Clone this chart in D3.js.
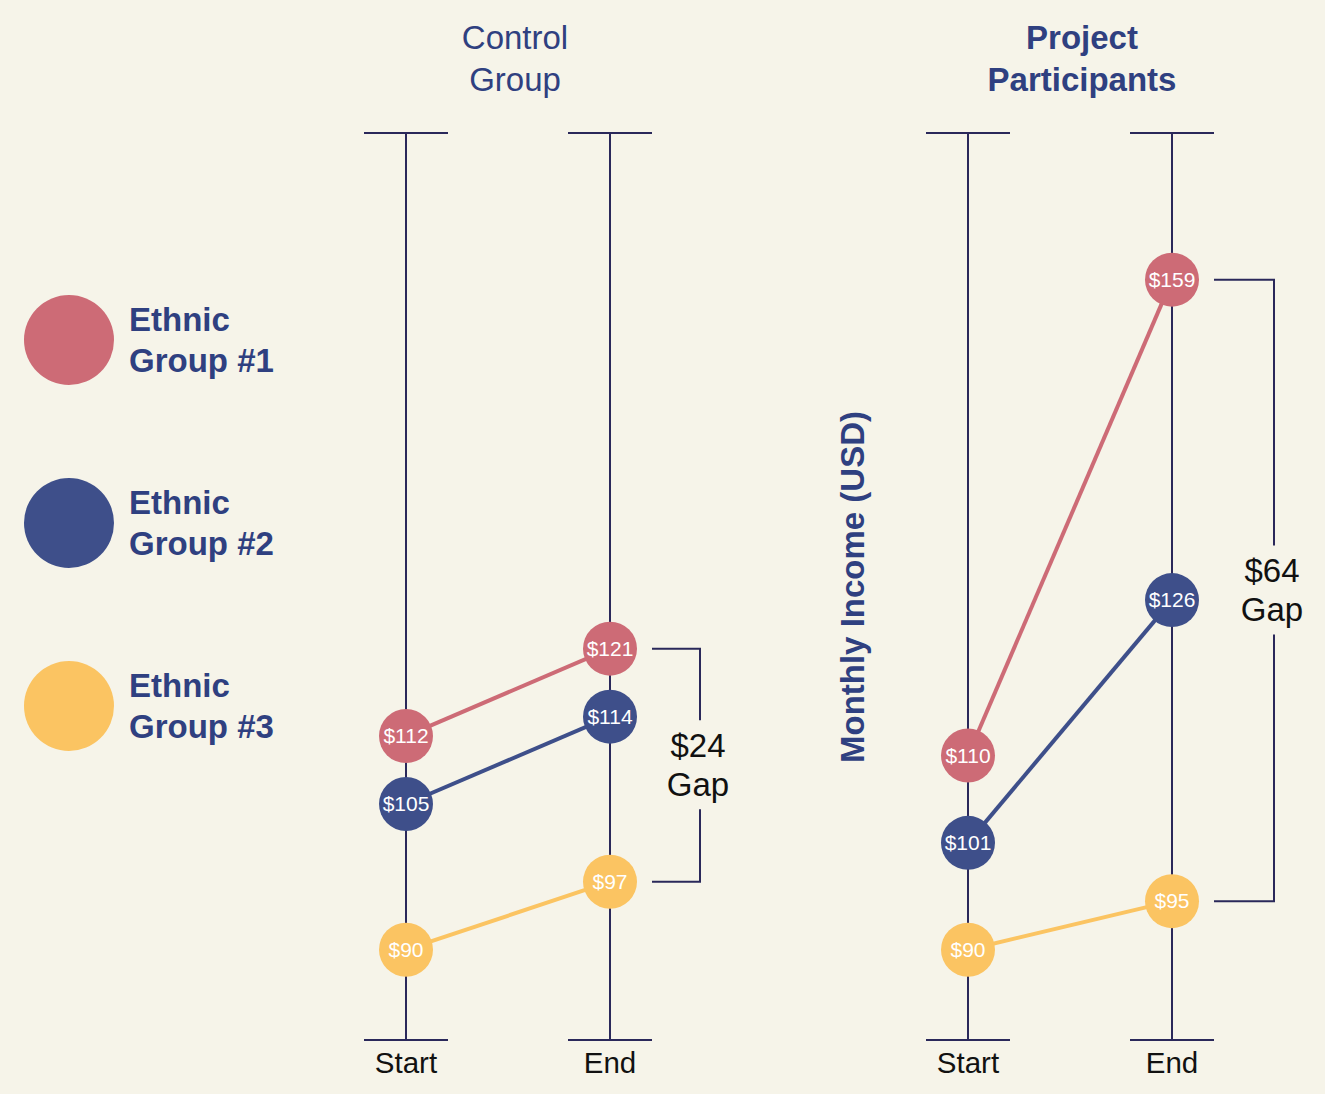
<!DOCTYPE html>
<html>
<head>
<meta charset="utf-8">
<script src="https://cdn.jsdelivr.net/npm/d3@7"></script>
<style>
  body { margin: 0; background: #f6f4e9; }
  svg { display: block; font-family: "Liberation Sans", Arial, Helvetica, sans-serif; }
</style>
</head>
<body>
<svg id="chart"></svg>
<script>
// data
const groups = ["Ethnic Group #1", "Ethnic Group #2", "Ethnic Group #3"];
const colours = ["#cd6b76", "#3e4f8a", "#fbc462"];
const periods = ["Start", "End"];
const controlStart = [112, 105, 90];
const controlEnd = [121, 114, 97];
const projectStart = [110, 101, 90];
const projectEnd = [159, 126, 95];
const panelTitles = [["Control", "Group"], ["Project", "Participants"]];

const width = 1325;
const height = 1094;
const axisCol = "#2a285a";
const titleCol = "#2f4080";

const svg = d3.select("#chart")
  .attr("width", width)
  .attr("height", height);

svg.append("rect")
  .attr("width", width)
  .attr("height", height)
  .attr("fill", "#f6f4e9");

// shared y scale
const yScale = d3.scaleLinear().domain([80.7, 174.1]).range([1040, 133]);

const panels = [
  { left: 406, right: 610, start: controlStart, end: controlEnd, title: panelTitles[0], bold: false, titleX: 515, gapX: 700 },
  { left: 968, right: 1172, start: projectStart, end: projectEnd, title: panelTitles[1], bold: true, titleX: 1082, gapX: 1274 }
];

panels.forEach((p) => {
  const xScale = d3.scalePoint().domain(periods).range([p.left, p.right]);
  const g = svg.append("g");

  // title
  p.title.forEach((t, i) => {
    g.append("text")
      .attr("x", p.titleX)
      .attr("y", 49 + i * 42)
      .attr("text-anchor", "middle")
      .attr("font-size", 33)
      .attr("font-weight", p.bold ? "bold" : "normal")
      .attr("fill", titleCol)
      .text(t);
  });

  // vertical axes with caps
  periods.forEach((per) => {
    const x = xScale(per);
    g.append("line")
      .attr("x1", x).attr("x2", x)
      .attr("y1", yScale.range()[1]).attr("y2", yScale.range()[0])
      .attr("stroke", axisCol).attr("stroke-width", 2);
    [yScale.range()[1], yScale.range()[0]].forEach((y) => {
      g.append("line")
        .attr("x1", x - 42).attr("x2", x + 42)
        .attr("y1", y).attr("y2", y)
        .attr("stroke", axisCol).attr("stroke-width", 2);
    });
    g.append("text")
      .attr("x", x)
      .attr("y", 1073)
      .attr("text-anchor", "middle")
      .attr("font-size", 29.5)
      .attr("fill", "#111")
      .text(per);
  });

  // slope lines
  groups.forEach((grp, i) => {
    g.append("line")
      .attr("x1", xScale("Start")).attr("y1", yScale(p.start[i]))
      .attr("x2", xScale("End")).attr("y2", yScale(p.end[i]))
      .attr("stroke", colours[i]).attr("stroke-width", 4);
  });

  // dots + labels
  groups.forEach((grp, i) => {
    [["Start", p.start[i]], ["End", p.end[i]]].forEach(([per, v]) => {
      g.append("circle")
        .attr("cx", xScale(per)).attr("cy", yScale(v))
        .attr("r", 27)
        .attr("fill", colours[i]);
      g.append("text")
        .attr("x", xScale(per)).attr("y", yScale(v))
        .attr("dy", "0.35em")
        .attr("text-anchor", "middle")
        .attr("font-size", 21)
        .attr("fill", "#fff")
        .text("$" + v);
    });
  });

  // gap bracket
  const top = yScale(d3.max(p.end));
  const bot = yScale(d3.min(p.end));
  const bx = p.gapX;
  const mid = (top + bot) / 2;
  const gapVal = d3.max(p.end) - d3.min(p.end);
  g.append("path")
    .attr("d", `M${p.right + 42},${top}H${bx}V${mid - 45}`)
    .attr("fill", "none").attr("stroke", axisCol).attr("stroke-width", 2);
  g.append("path")
    .attr("d", `M${bx},${mid + 44}V${bot}H${p.right + 42}`)
    .attr("fill", "none").attr("stroke", axisCol).attr("stroke-width", 2);
  ["$" + gapVal, "Gap"].forEach((t, i) => {
    g.append("text")
      .attr("x", bx - 2)
      .attr("y", mid - 8 + i * 39)
      .attr("text-anchor", "middle")
      .attr("font-size", 33)
      .attr("fill", "#111")
      .text(t);
  });
});

// y axis label
svg.append("text")
  .attr("transform", "translate(864,587) rotate(-90)")
  .attr("text-anchor", "middle")
  .attr("font-size", 33)
  .attr("font-weight", "bold")
  .attr("fill", titleCol)
  .text("Monthly Income (USD)");

// legend
const legend = svg.append("g");
groups.forEach((grp, i) => {
  const y = 340 + i * 183;
  legend.append("circle")
    .attr("cx", 69).attr("cy", y).attr("r", 45)
    .attr("fill", colours[i]);
  const words = grp.split(" ");
  [words[0], words.slice(1).join(" ")].forEach((t, j) => {
    legend.append("text")
      .attr("x", 129)
      .attr("y", y - 9 + j * 41)
      .attr("font-size", 33)
      .attr("font-weight", "bold")
      .attr("fill", titleCol)
      .text(t);
  });
});
</script>
</body>
</html>
